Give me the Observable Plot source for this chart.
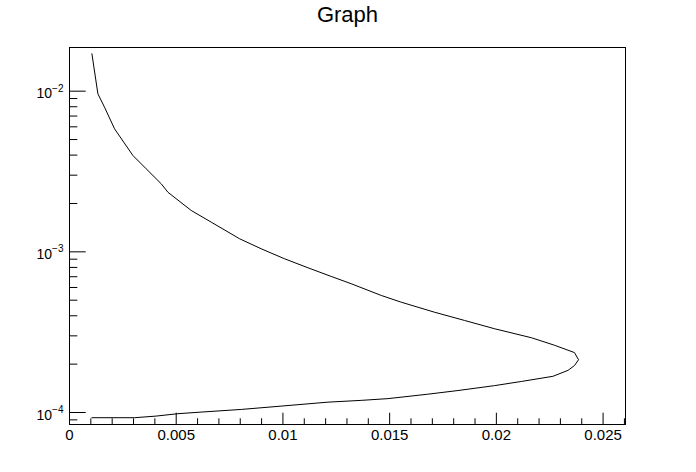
<!DOCTYPE html>
<html><head><meta charset="utf-8">
<script src="https://cdn.jsdelivr.net/npm/d3@7"></script>
<script src="https://cdn.jsdelivr.net/npm/@observablehq/plot@0.6"></script>
<style>
body{margin:0;background:#fff;}
#chart svg{font-family:"Liberation Sans",Arial,Helvetica,sans-serif;}
</style>
</head><body><div id="chart"></div>
<script>
const title = "Graph";
const curveX = [0.00105,0.00133,0.00164,0.00211,0.00297,0.00359,0.00430,0.00461,0.00570,0.00664,0.00797,0.00898,0.01007,0.01117,0.01226,0.01320,0.01461,0.01554,0.01710,0.01851,0.01992,0.02164,0.02273,0.02366,0.02385,0.02366,0.02336,0.02265,0.02117,0.01992,0.01820,0.01679,0.01492,0.01367,0.01211,0.00992,0.00805,0.00617,0.00508,0.00406,0.00305,0.00105];
const curveY = [0.01709,0.00963,0.00795,0.00583,0.00398,0.00329,0.00265,0.00235,0.00181,0.00153,0.001206,0.001045,0.000906,0.000796,0.000703,0.000633,0.000535,0.000486,0.000421,0.000374,0.000332,0.000292,0.000262,0.000236,0.000213,0.000196,0.000183,0.000168,0.000156,0.000147,0.000137,0.000130,0.000122,0.000119,0.000116,0.0001096,0.0001045,0.0001006,0.0000983,0.0000950,0.0000928,0.0000928];
const xMajorTicks = [0,0.005,0.01,0.015,0.02,0.025];
const xTickLabels = ["0","0.005","0.01","0.015","0.02","0.025"];
const xMinorTicks = [0.001,0.002,0.003,0.004,0.006,0.007,0.008,0.009,0.011,0.012,0.013,0.014,0.016,0.017,0.018,0.019,0.021,0.022,0.023,0.024,0.026];
const yMajorTicks = [1e-4,1e-3,1e-2];
const yTickBase = ["10","10","10"];
const yTickExponents = ["\u22124","\u22123","\u22122"];
const yMinorTicks = [9e-5,2e-4,3e-4,4e-4,5e-4,6e-4,7e-4,8e-4,9e-4,2e-3,3e-3,4e-3,5e-3,6e-3,7e-3,8e-3,9e-3];
const xDomain = [0, 0.02605];
const yDomain = [8.42e-5, 0.0187];

const data = curveX.map((x, i) => ({x, y: curveY[i]}));
const W = 696, H = 472, mL = 69, mR = 71, mT = 47, mB = 48;
const innerW = W - mL - mR, innerH = H - mT - mB;
const xMajLen = 11.3, xMinLen = 5.7, yMajLen = 16.7, yMinLen = 8.3;

const chart = Plot.plot({
  width: W, height: H,
  marginLeft: mL, marginRight: mR, marginTop: mT, marginBottom: mB,
  style: {background: "#fff", color: "#000", fontFamily: "'Liberation Sans', Arial, sans-serif", overflow: "visible"},
  x: {domain: xDomain},
  y: {type: "log", domain: yDomain},
  marks: [
    Plot.ruleX(xMajorTicks, {x: d => d, insetTop: innerH - xMajLen, stroke: "#000"}),
    Plot.ruleX(xMinorTicks, {x: d => d, insetTop: innerH - xMinLen, stroke: "#000"}),
    Plot.ruleY(yMajorTicks, {y: d => d, insetRight: innerW - yMajLen, stroke: "#000"}),
    Plot.ruleY(yMinorTicks, {y: d => d, insetRight: innerW - yMinLen, stroke: "#000"}),
    Plot.axisX({ticks: xMajorTicks, tickSize: 0, tickPadding: 5, fontSize: 15, label: null,
      tickFormat: d => xTickLabels[xMajorTicks.indexOf(d)]}),
    Plot.axisY({ticks: yMajorTicks, tickSize: 0, tickPadding: 6, fontSize: 14, label: null,
      tickFormat: d => yTickBase[yMajorTicks.indexOf(d)] + "|" + yTickExponents[yMajorTicks.indexOf(d)]}),
    Plot.frame({stroke: "#000"}),
    Plot.line(data, {x: "x", y: "y", stroke: "#000", strokeWidth: 1}),
    Plot.text([title], {frameAnchor: "top", lineAnchor: "middle", dy: -32.3, fontSize: 22, fill: "#000"})
  ]
});
// render exponents as superscripts (real text with tspans)
d3.select(chart).selectAll("text").each(function() {
  const t = d3.select(this);
  const s = t.text();
  if (s.includes("|")) {
    const [base, exp] = s.split("|");
    t.text(null).attr("dy", "0.2em");
    t.append("tspan").text(base);
    t.append("tspan").attr("font-size", 10).attr("dy", -6.7).text(exp);
  }
});
document.getElementById("chart").appendChild(chart);
</script>
</body></html>
